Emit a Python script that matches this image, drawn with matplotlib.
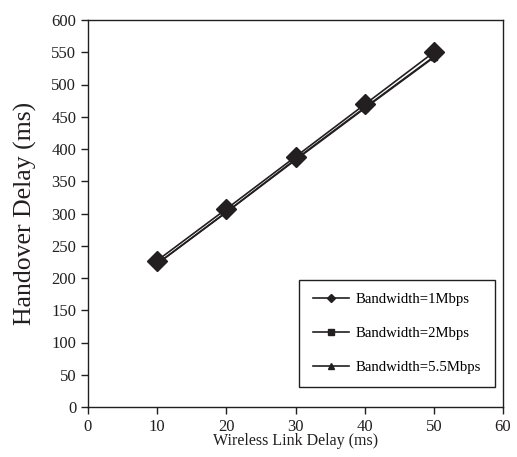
import matplotlib
matplotlib.use("Agg")
import matplotlib.pyplot as plt

plt.rcParams['font.family'] = ['Liberation Serif', 'DejaVu Serif']

delays = [10, 20, 30, 40, 50]
bw_1mbps = [227, 307, 388, 469, 550]
bw_2mbps = [222, 302, 384, 464, 543]
bw_55mbps = [222, 302, 383, 463, 542]

x_ticks = [0, 10, 20, 30, 40, 50, 60]
y_ticks = [0, 50, 100, 150, 200, 250, 300, 350, 400, 450, 500, 550, 600]

col = '#231f20'
fig = plt.figure(figsize=(5.17, 4.57), dpi=100)
ax = fig.add_axes([88/517, 50/457, 415/517, 387/457])

l3, = ax.plot(delays, bw_55mbps, color=col, lw=1.2, marker='^', ms=4, zorder=2)
l2, = ax.plot(delays, bw_2mbps, color=col, lw=1.2, marker='s', ms=4, zorder=2)
l1, = ax.plot(delays, bw_1mbps, color=col, lw=1.2, marker='D', ms=10, zorder=3)

ax.set_xlim(0, 60)
ax.set_ylim(0, 600)
ax.set_xticks(x_ticks)
ax.set_yticks(y_ticks)
ax.tick_params(axis='both', direction='out', length=5, width=1, colors=col,
               labelsize=12, labelcolor=col)
for s in ax.spines.values():
    s.set_color(col)
    s.set_linewidth(1.0)

ax.set_xlabel('Wireless Link Delay (ms)', fontsize=11.5, color=col, labelpad=-1)
ax.set_ylabel('Handover Delay (ms)', fontsize=18.5, color=col, labelpad=10)

from matplotlib.lines import Line2D
h1 = Line2D([], [], color=col, lw=1.2, marker='D', ms=4)
h2 = Line2D([], [], color=col, lw=1.2, marker='s', ms=4)
h3 = Line2D([], [], color=col, lw=1.2, marker='^', ms=4)
leg = ax.legend([h1, h2, h3],
                ['Bandwidth=1Mbps', 'Bandwidth=2Mbps', 'Bandwidth=5.5Mbps'],
                loc='center', bbox_to_anchor=(0.506, 0.052, 0.477, 0.276),
                fancybox=False, framealpha=1, edgecolor=col, fontsize=10.6,
                labelspacing=1.4, handlelength=2.5, handletextpad=0.45,
                borderpad=0.9, borderaxespad=0)
leg.get_frame().set_linewidth(1.0)

fig.savefig('out.png', dpi=100)
